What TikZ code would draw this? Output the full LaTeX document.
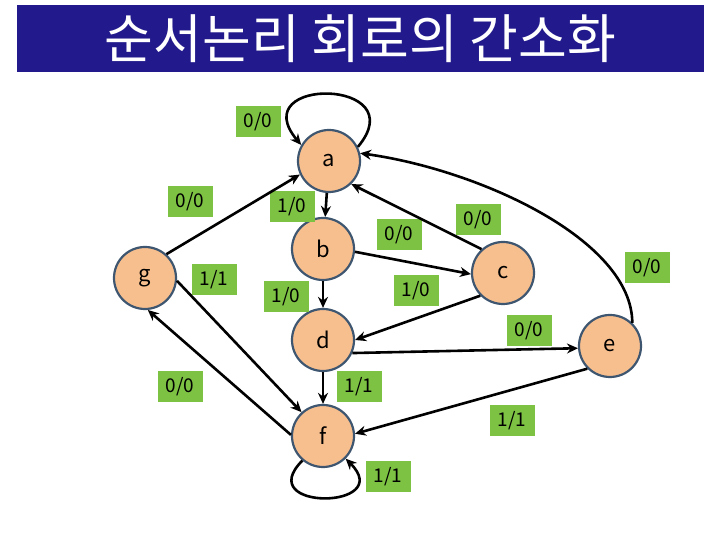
\documentclass[tikz,border=0pt]{standalone}
\usepackage{fontspec}
\setmainfont{Noto Sans CJK KR}
\usepackage{tikz}
\usetikzlibrary{arrows.meta}
\tikzset{>={Stealth[length=11pt,width=10pt]}}
\usepackage{xcolor}
\definecolor{titleblue}{HTML}{221A8C}
\definecolor{statefill}{HTML}{F8BF8E}
\definecolor{stateline}{HTML}{3E5670}
\definecolor{iogreen}{HTML}{7DC243}
\tikzset{
  stnode/.style={circle, draw=stateline, line width=2.2pt, fill=statefill,
    minimum size=62pt, inner sep=0pt, font=\fontsize{22}{22}\selectfont},
  iolabel/.style={fill=iogreen, minimum width=45pt, minimum height=31pt,
    inner sep=0pt, font=\fontsize{19}{19}\selectfont},
  trans/.style={->, line width=2.6pt}
}

\begin{document}
\begin{tikzpicture}[x=1pt,y=1pt]
            \useasboundingbox (0,0) rectangle (720,540);
            % title bar
            \node[fill=titleblue, minimum width=687pt, minimum height=67pt, inner sep=0pt,
                text=white, font=\fontsize{53}{53}\selectfont] (title) at (360.5,501.5) {순서논리 회로의 간소화};
            % states
            \node[stnode] (a) at (329,379) {a};
            \node[stnode] (b) at (323,291) {b};
            \node[stnode] (c) at (503,267) {c};
            \node[stnode] (d) at (323,200) {d};
            \node[stnode] (e) at (610,194) {e};
            \node[stnode] (f) at (323,104) {f};
            \node[stnode] (g) at (145,262) {g};
            % input/output labels
            \node[iolabel] (aa) at (258,418) {0/0};
            \node[iolabel] (ga) at (190,338) {0/0};
            \node[iolabel] (ab) at (292,333) {1/0};
            \node[iolabel] (bc) at (399,305) {0/0};
            \node[iolabel] (ca) at (478,320) {0/0};
            \node[iolabel] (gf) at (214,260) {1/1};
            \node[iolabel] (bd) at (286,243) {1/0};
            \node[iolabel] (cd) at (416,249) {1/0};
            \node[iolabel] (ea) at (647,272) {0/0};
            \node[iolabel] (de) at (529,209) {0/0};
            \node[iolabel] (fg) at (180,153) {0/0};
            \node[iolabel] (df) at (359,153) {1/1};
            \node[iolabel] (ef) at (512,119) {1/1};
            \node[iolabel] (ff) at (388,63) {1/1};
            % self loops
            \draw[trans] (a.26) .. controls +(50:90) and +(130:90) .. (a.150);
            \draw[trans] (f.230) .. controls +(225:72) and +(315:72) .. (f.315);
            % transitions
            \draw[trans] (g.48) -- (a.205);
            \draw[trans] (a) -- (b);
            \draw[trans] (c.132) -- (a.314);
            \draw[trans] (e.46) .. controls (632,300) and (480,370) .. (a.14);
            \draw[trans] (b.355) -- (c.182);
            \draw[trans] (b) -- (d);
            \draw[trans] (c.225) -- (d.0);
            \draw[trans] (d.336) -- (e.184);
            \draw[trans] (d) -- (f);
            \draw[trans] (e.225) -- (f.4);
            \draw[trans] (g.-5) -- (f.132);
            \draw[trans] (f.178) -- (g.-85);
        \end{tikzpicture}
\end{document}
